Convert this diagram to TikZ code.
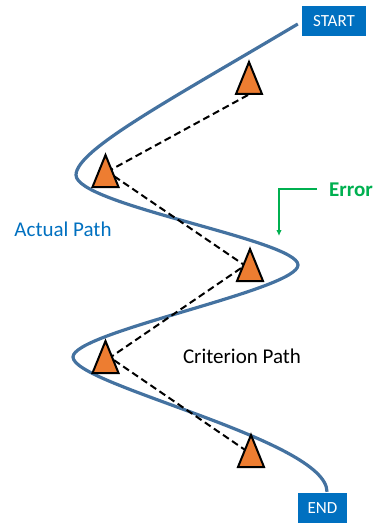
\documentclass[tikz,border=0pt]{standalone}
\usepackage{fontspec}
\setmainfont{Carlito}
\usetikzlibrary{calc,arrows.meta}
\definecolor{boxblue}{HTML}{0070C0}
\definecolor{curveblue}{HTML}{4472A0}
\definecolor{triorange}{HTML}{ED7D31}
\definecolor{errgreen}{HTML}{00B050}
\definecolor{labelblue}{HTML}{0070C0}
\tikzset{
  endbox/.style={fill=boxblue, text=white, inner sep=0pt, font=\fontsize{17}{19}\selectfont},
  actual/.style={line width=3.2pt, draw=curveblue},
  crit/.style={line width=2pt, dash pattern=on 7pt off 4pt},
  tri/.pic={\draw[fill=triorange, line width=2pt, line join=miter] (-13,0) -- (13,0) -- (0,-32) -- cycle;},
  lbl/.style={inner sep=0pt, font=\fontsize{21}{23}\selectfont},
}
\begin{document}
\begin{tikzpicture}[x=1pt,y=-1pt]
\useasboundingbox (0,0) rectangle (379,524);
% boxes
\node[endbox, minimum width=64pt, minimum height=30pt] (start) at (334,21) {START};
\node[endbox, minimum width=49pt, minimum height=30pt] (end) at (322.5,508) {END};
% triangle base centres
\coordinate (t1) at (249,94);
\coordinate (t2) at (105.5,187);
\coordinate (t3) at (250,281);
\coordinate (t4) at (105.5,373);
\coordinate (t5) at (251,467);
% actual path
\draw[actual] ($(start.west)+(-4,3)$) .. controls (170,100) and (76,150) .. (76,175)
  .. controls (76,205) and (298,240) .. (298,265)
  .. controls (298,290) and (73,332) .. (73,357)
  .. controls (73,385) and (327,440) .. ($(end.north)+(4.5,-1)$);
% criterion path
\draw[crit] ($(t1)+(-1,1)$) -- ($(t2)+(-0.5,-14)$);
\draw[crit] ($(t2)+(-0.5,-17)$) -- ($(t3)+(0,-12)$);
\draw[crit] ($(t3)+(0,-19)$) -- ($(t4)+(-0.5,-12)$);
\draw[crit] ($(t4)+(-0.5,-19)$) -- ($(t5)+(0,-13)$);
% triangles
\foreach \t in {t1,t2,t3,t4,t5} { \pic at (\t) {tri}; }
% labels
\node[lbl, text=labelblue] (actlbl) at (63,229) {Actual Path};
\node[lbl] (critlbl) at (242,356) {Criterion Path};
\node[lbl, text=errgreen, font=\fontsize{21}{23}\selectfont\bfseries, anchor=west] (err) at (329,190) {Error};
\coordinate (e1) at (317,189);
\coordinate (e2) at (279,236);
\draw[errgreen, line width=1.8pt, -{Latex[length=6pt,width=5.5pt]}] (e1) -| (e2);
\end{tikzpicture}
\end{document}
